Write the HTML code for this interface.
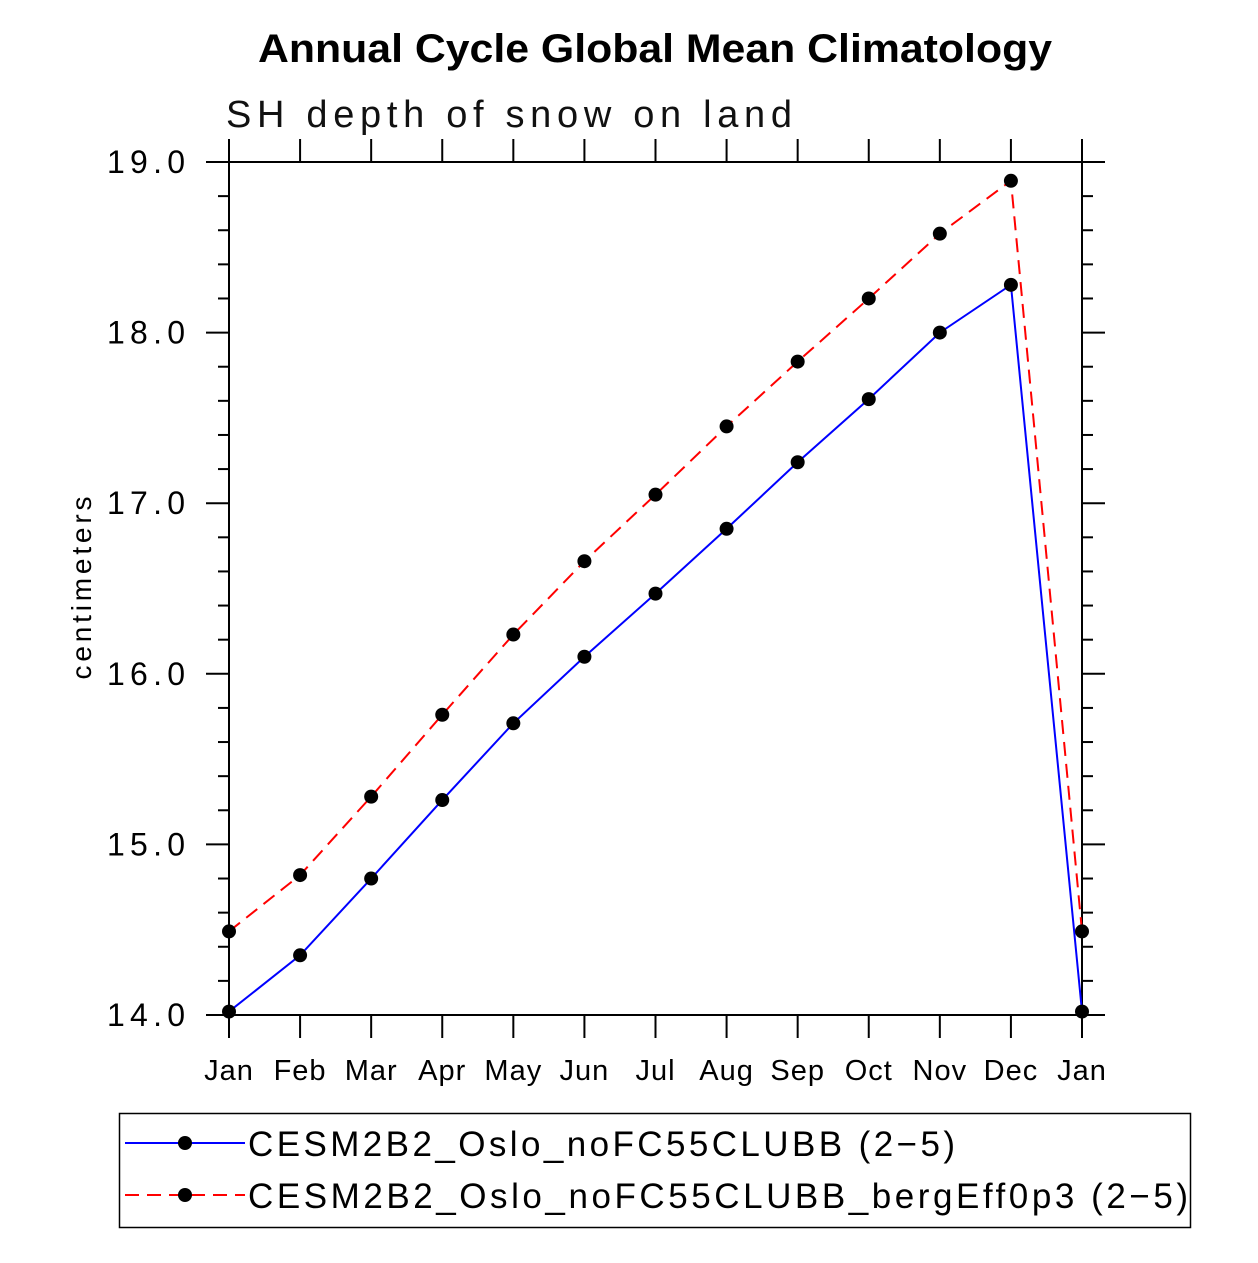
<!DOCTYPE html>
<html><head><meta charset="utf-8"><style>
body{margin:0;background:#fff}
svg text{font-family:"Liberation Sans",sans-serif}
</style></head><body>
<svg id="chart" width="1258" height="1258" viewBox="0 0 1258 1258" xmlns="http://www.w3.org/2000/svg">
<text x="258" y="62" font-size="40" font-weight="bold" textLength="794" lengthAdjust="spacingAndGlyphs">Annual Cycle Global Mean Climatology</text>
<text x="226" y="127" font-size="38" textLength="566" lengthAdjust="spacing" fill="#111">SH depth of snow on land</text>
<text transform="translate(91,588) rotate(-90)" text-anchor="middle" font-size="28" textLength="183" lengthAdjust="spacing">centimeters</text>
<g id="axes"></g>
<g id="series"></g>
<rect x="119.5" y="1113.5" width="1071" height="114" fill="none" stroke="#000" stroke-width="1.5"/>
<g>
<line x1="125" y1="1143" x2="245" y2="1143" stroke="#0000ff" stroke-width="2"/>
<circle cx="185" cy="1143" r="7" fill="#000"/>
<text x="248" y="1156" font-size="35" textLength="707" lengthAdjust="spacing">CESM2B2_Oslo_noFC55CLUBB (2−5)</text>
</g>
<g>
<line x1="125" y1="1195" x2="245" y2="1195" stroke="#ff0000" stroke-width="2" stroke-dasharray="14,8"/>
<circle cx="185" cy="1195" r="7" fill="#000"/>
<text x="248" y="1208" font-size="35" textLength="940" lengthAdjust="spacing">CESM2B2_Oslo_noFC55CLUBB_bergEff0p3 (2−5)</text>
</g>
</svg>
<script>
const months=["Jan","Feb","Mar","Apr","May","Jun","Jul","Aug","Sep","Oct","Nov","Dec","Jan"];
const blueValues=[14.02,14.35,14.80,15.26,15.71,16.10,16.47,16.85,17.24,17.61,18.00,18.28,14.02];
const redValues=[14.49,14.82,15.28,15.76,16.23,16.66,17.05,17.45,17.83,18.20,18.58,18.89,14.49];
const yTicks=[14,15,16,17,18,19];
const yTickLabels=["14.0","15.0","16.0","17.0","18.0","19.0"];
const X0=229,X1=1082,Y0=1015,Y1=162,YMIN=14,YMAX=19;
const NS="http://www.w3.org/2000/svg";
function xs(i){return X0+(X1-X0)*i/(months.length-1);}
function ys(v){return Y0-(v-YMIN)/(YMAX-YMIN)*(Y0-Y1);}
function mk(tag,attrs,parent){const e=document.createElementNS(NS,tag);for(const k in attrs)e.setAttribute(k,attrs[k]);parent.appendChild(e);return e;}
const axes=document.getElementById('axes');
const frame=mk('rect',{x:X0,y:Y1,width:X1-X0,height:Y0-Y1,fill:'none',stroke:'#000','stroke-width':2},axes);


months.forEach((m,i)=>{
  const x=xs(i);
  mk('line',{x1:x,y1:Y0,x2:x,y2:Y0+23,stroke:'#000','stroke-width':2},axes);
  mk('line',{x1:x,y1:Y1,x2:x,y2:Y1-23,stroke:'#000','stroke-width':2},axes);
  const t=mk('text',{x:x,y:1080,'text-anchor':'middle','font-size':29,'letter-spacing':1},axes);
  t.textContent=m;
  
  
});
for(let v=YMIN;v<=YMAX+1e-9;v+=0.2){
  const y=ys(v);const major=Math.abs(v-Math.round(v))<1e-6;const L=major?23:11;
  mk('line',{x1:X0,y1:y,x2:X0-L,y2:y,stroke:'#000','stroke-width':2},axes);
  mk('line',{x1:X1,y1:y,x2:X1+L,y2:y,stroke:'#000','stroke-width':2},axes);
}
yTicks.forEach((v,i)=>{
  const t=mk('text',{x:107,y:ys(v)+11,'font-size':32,textLength:78,lengthAdjust:'spacing'},axes);
  t.textContent=yTickLabels[i];
  
  
});
const series=document.getElementById('series');
function draw(vals,color,dash,name){
  const g=mk('g',{},series);
  
  
  const pts=vals.map((v,i)=>xs(i)+','+ys(v)).join(' ');
  const a={points:pts,fill:'none',stroke:color,'stroke-width':2};
  if(dash)a['stroke-dasharray']=dash;
  mk('polyline',a,g);
  vals.forEach((v,i)=>{
    const c=mk('circle',{cx:xs(i),cy:ys(v),r:7,fill:'#000'},g);
    
    
  });
}
draw(blueValues,'#0000ff',null,'series-noFC55CLUBB');
draw(redValues,'#ff0000','14,8','series-bergEff0p3');
</script>
</body></html>
